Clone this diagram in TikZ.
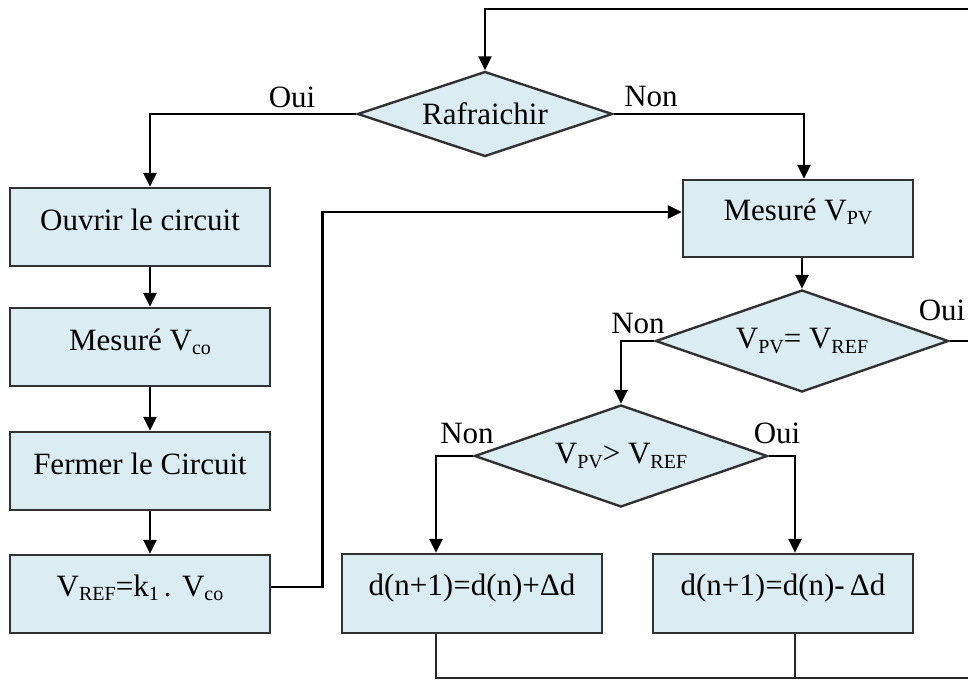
\documentclass[tikz,border=0pt]{standalone}
\usepackage{fontspec}
\setmainfont{Liberation Serif}
\usetikzlibrary{shapes.geometric,arrows.meta}
\definecolor{boxfill}{RGB}{219,236,243}
\definecolor{boxline}{RGB}{50,50,50}
\newcommand{\lowsub}[1]{\raisebox{-0.14em}{\fontsize{20}{21}\selectfont #1}}
\begin{document}
\begin{tikzpicture}[x=1pt,y=-1pt,
  every node/.style={font=\fontsize{31}{36}\selectfont},
  box/.style={draw=boxline,fill=boxfill,line width=2.4pt,rectangle,minimum width=260pt,minimum height=78pt,inner sep=0pt},
  txt/.style={anchor=base,inner sep=0pt},
  dec/.style={draw=boxline,fill=boxfill,line width=2.4pt,diamond,aspect=3,inner sep=0pt,minimum width=293pt,minimum height=102pt},
  flow/.style={line width=2.6pt,-{Triangle[length=14pt,width=13pt]}},
  wire/.style={line width=2.2pt,draw=black!85},
  lbl/.style={inner sep=0pt}]
\useasboundingbox (0,0) rectangle (968,680);

% decisions
\node[dec,minimum width=255pt,minimum height=85pt] (raf) at (485,114) {Rafraichir};
\node[dec] (d2) at (802,341) {V\lowsub{PV}= V\lowsub{REF}};
\node[dec] (d3) at (621,456) {V\lowsub{PV}> V\lowsub{REF}};

% left column
\node[box] (b1) at (140,227) {};
\node[txt] (t1) at (140,230) {Ouvrir le circuit};
\node[box] (b2) at (140,347) {};
\node[txt] (t2) at (140,350) {Mesuré V\lowsub{co}};
\node[box] (b3) at (140,471) {};
\node[txt] (t3) at (140,474) {Fermer le Circuit};
\node[box] (b4) at (140,594) {};
\node[txt] (t4) at (140,596) {V\lowsub{REF}=k\lowsub{1}\,. V\lowsub{co}};

% right part
\node[box,minimum width=230pt,minimum height=77pt] (mes) at (798,218.5) {};
\node[txt] (tm) at (798,220) {Mesuré V\lowsub{PV}};
\node[box,minimum height=79pt] (bl) at (472,593.5) {};
\node[txt] (tl) at (472,595) {d(n+1)=d(n)+Δd};
\node[box,minimum height=79pt] (br) at (783,593.5) {};
\node[txt] (tr) at (783,595) {d(n+1)=d(n)-\,Δd};

% labels
\node[lbl] (l1) at (292,97) {Oui};
\node[lbl] (l2) at (651,97) {Non};
\node[lbl] (l3) at (638,323) {Non};
\node[lbl] (l4) at (942,310) {Oui};
\node[lbl] (l5) at (467,433) {Non};
\node[lbl] (l6) at (777,433) {Oui};

% free ends
\coordinate (topR) at (968,9);
\coordinate (d2out) at (968,341);
\coordinate (botR) at (968,678);

% connectors
\draw[flow,line width=2.2pt] (topR) -| (raf.north);
\draw[flow] (raf.west) -| ([xshift=10pt]b1.north);
\draw[flow] (raf.east) -| ([xshift=6pt]mes.north);
\draw[flow] ([xshift=10pt]b1.south) -- ([xshift=10pt]b2.north);
\draw[flow] ([xshift=10pt]b2.south) -- ([xshift=10pt]b3.north);
\draw[flow] ([xshift=10pt]b3.south) -- ([xshift=10pt]b4.north);
\draw[flow] ([yshift=7pt]b4.east) -- ++(51,0) |- ([yshift=6.5pt]mes.west);
\draw[flow] ([xshift=4pt]mes.south) -- (d2.north);
\draw[flow] (d2.west) -| (d3.north);
\draw[wire,line width=2.6pt,draw=black] (d2.east) -- (d2out);
\draw[flow] (d3.west) -| ([xshift=-36pt]bl.north);
\draw[flow] (d3.east) -| ([xshift=12pt]br.north);
\draw[wire] ([xshift=-36pt]bl.south) |- (botR);
\draw[wire] ([xshift=12pt]br.south) -- ([xshift=12pt]br.south |- botR);
\end{tikzpicture}
\end{document}
